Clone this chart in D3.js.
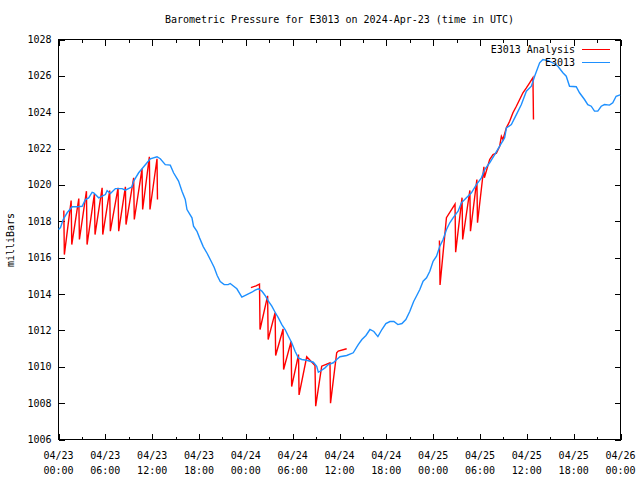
<!DOCTYPE html>
<html>
<head>
<meta charset="utf-8">
<script src="https://cdn.jsdelivr.net/npm/d3@7"></script>
<style>
  html, body { margin: 0; padding: 0; background: #fff; }
  svg { display: block; }
  text { font-family: "DejaVu Sans Mono", "Liberation Mono", monospace; font-size: 10px; fill: #000; }
</style>
</head>
<body>
<svg id="chart" width="640" height="480"></svg>
<script>
// ---- data (hours after 2024-04-23 00:00 UTC, pressure in mb) ----
const stationHours = [0.0,0.26,0.6,1.11,1.75,2.39,3.03,3.45,3.87,4.31,4.51,5.15,5.59,6.01,6.23,6.65,7.29,8.15,8.57,9.42,9.63,10.27,10.70,11.34,11.76,12.62,13.04,13.68,14.32,14.74,15.38,15.82,16.24,16.46,17.10,17.30,17.74,18.07,18.54,19.05,19.57,19.95,20.33,20.72,21.23,21.74,22.0,22.85,23.49,24.13,24.77,25.19,25.61,26.05,26.47,26.89,27.33,27.75,28.17,28.61,29.03,29.45,29.88,30.31,30.73,31.16,31.80,32.65,33.08,33.29,33.72,34.14,34.57,35.20,35.64,36.06,36.92,37.76,38.40,38.87,39.39,39.9,40.4,40.92,41.43,41.94,42.46,42.97,43.48,44.0,44.5,45.0,45.5,45.9,46.29,46.71,47.15,47.57,47.99,48.43,48.85,49.27,49.71,50.13,50.55,51.19,51.62,52.26,52.90,53.54,54.18,54.60,55.24,55.88,56.52,57.16,57.38,58.02,58.66,59.30,59.94,60.58,61.00,61.64,62.06,62.70,63.34,63.98,64.62,65.05,65.47,66.33,66.75,67.39,67.81,68.25,68.67,69.09,69.53,69.95,70.59,71.01,71.44,71.95];
const stationValues = [1017.55,1017.66,1018.1,1018.47,1018.80,1018.80,1018.83,1019.20,1019.29,1019.60,1019.57,1019.29,1019.38,1019.47,1019.69,1019.53,1019.80,1019.80,1019.71,1019.90,1020.21,1020.67,1020.89,1021.22,1021.44,1021.55,1021.44,1021.12,1021.09,1020.67,1020.21,1019.66,1019.20,1018.65,1018.19,1017.73,1017.45,1017.09,1016.61,1016.23,1015.79,1015.46,1015.02,1014.69,1014.52,1014.52,1014.58,1014.29,1013.83,1013.97,1014.10,1014.21,1014.29,1014.16,1013.92,1013.61,1013.33,1013.00,1012.69,1012.32,1012.05,1011.68,1011.32,1010.85,1010.49,1010.40,1010.36,1010.25,1010.03,1009.70,1009.81,1009.94,1010.12,1010.22,1010.40,1010.55,1010.62,1010.77,1011.22,1011.5,1011.72,1012.05,1011.94,1011.66,1012.05,1012.38,1012.49,1012.49,1012.32,1012.38,1012.6,1013.04,1013.59,1013.92,1014.25,1014.71,1014.89,1015.25,1015.80,1016.08,1016.63,1017.00,1017.55,1017.92,1018.19,1018.56,1019.02,1019.29,1019.57,1020.02,1020.39,1020.85,1021.22,1021.67,1022.13,1022.59,1023.14,1023.32,1023.87,1024.42,1025.16,1025.43,1025.98,1026.72,1026.90,1026.84,1026.72,1026.53,1026.17,1025.98,1025.43,1025.40,1025.07,1024.70,1024.42,1024.33,1024.06,1024.06,1024.33,1024.42,1024.39,1024.52,1024.88,1024.95];

// analysis series: null marks a gap between the three runs
const analysisHours = [0.68,0.75,1.62,1.70,2.60,2.68,3.58,3.66,4.60,4.68,5.59,5.67,6.56,6.64,7.63,7.71,8.57,8.65,9.63,9.71,10.70,10.78,11.64,11.72,12.62,12.68,
  13.0,
  24.65,25.3,25.75,25.82,26.79,26.86,27.75,27.82,28.77,28.84,29.80,29.87,30.75,30.82,31.80,32.86,32.95,33.72,34.78,34.85,35.64,35.84,36.92,
  37.5,
  48.8,48.88,49.7,50.8,50.88,51.7,51.78,52.7,52.78,53.6,53.68,54.5,54.56,55.24,55.67,56.1,56.52,56.74,56.94,57.38,57.8,58.22,58.66,59.08,59.5,59.94,60.36,60.78,60.82,60.85];
const analysisValues = [1018.6,1016.17,1019.14,1016.72,1019.25,1017.0,1019.66,1016.72,1019.51,1017.27,1019.84,1017.27,1019.69,1017.46,1019.84,1017.46,1019.90,1017.82,1020.39,1018.10,1020.89,1018.65,1021.55,1018.65,1021.44,1019.2,
  null,
  1014.35,1014.45,1014.55,1012.05,1013.9,1011.5,1012.98,1010.62,1012.08,1009.85,1011.4,1008.91,1010.67,1008.45,1010.55,1010.07,1007.83,1010.03,1010.22,1008.0,1010.77,1010.86,1010.99,
  null,
  1016.95,1014.5,1018.2,1018.95,1016.3,1019.3,1017.0,1019.7,1017.46,1020.3,1017.92,1021.0,1020.4,1021.40,1021.67,1021.75,1022.13,1022.68,1022.5,1023.14,1023.5,1023.97,1024.33,1024.7,1025.07,1025.34,1025.62,1025.9,1024.7,1023.6];

const yTickValues = [1006,1008,1010,1012,1014,1016,1018,1020,1022,1024,1026,1028];
const seriesNames = ["E3013 Analysis", "E3013"];
const seriesColors = ["#ff0000", "#1e90ff"];
const titleText = "Barometric Pressure for E3013 on 2024-Apr-23 (time in UTC)";
const yLabelText = "milliBars";

// ---- setup ----
const start = Date.UTC(2024, 3, 23, 0, 0);
const toDate = h => new Date(start + h * 3600000);
const svg = d3.select("#chart");
const L = 58.5, R = 620.5, T = 39.5, B = 439.5;

const x = d3.scaleUtc().domain([toDate(0), toDate(72)]).range([L, R]);
const y = d3.scaleLinear().domain([1006, 1028]).range([B, T]);

const majorTicks = d3.range(0, 73, 6).map(toDate);
const minorTicks = d3.range(3, 72, 6).map(toDate);

// frame
svg.append("rect").attr("x", L).attr("y", T).attr("width", R - L).attr("height", B - T)
  .attr("fill", "none").attr("stroke", "#000").attr("stroke-width", 1);

const g = svg.append("g").attr("stroke", "#000").attr("stroke-width", 1).attr("shape-rendering", "crispEdges");
// y ticks left + right
yTickValues.forEach(v => {
  const yy = Math.round(y(v)) + 0.5;
  g.append("line").attr("x1", L).attr("x2", L + 6).attr("y1", yy).attr("y2", yy);
  g.append("line").attr("x1", R - 6).attr("x2", R).attr("y1", yy).attr("y2", yy);
});
// x ticks bottom + top
majorTicks.forEach(d => {
  const xx = Math.round(x(d)) + 0.5;
  g.append("line").attr("x1", xx).attr("x2", xx).attr("y1", B).attr("y2", B - 6);
  g.append("line").attr("x1", xx).attr("x2", xx).attr("y1", T).attr("y2", T + 6);
});
minorTicks.forEach(d => {
  const xx = Math.round(x(d)) + 0.5;
  g.append("line").attr("x1", xx).attr("x2", xx).attr("y1", B).attr("y2", B - 3);
  g.append("line").attr("x1", xx).attr("x2", xx).attr("y1", T).attr("y2", T + 3);
});

// y tick labels
svg.append("g").selectAll("text").data(yTickValues).join("text")
  .attr("x", L - 7).attr("y", d => y(d)).attr("dy", "0.35em")
  .attr("text-anchor", "end").text(d => d);

// x tick labels
const fmtDay = d3.utcFormat("%m/%d"), fmtTime = d3.utcFormat("%H:%M");
const xl = svg.append("g").selectAll("g").data(majorTicks).join("g");
xl.append("text").attr("x", d => x(d)).attr("y", 459).attr("text-anchor", "middle").text(d => fmtDay(d));
xl.append("text").attr("x", d => x(d)).attr("y", 474).attr("text-anchor", "middle").text(d => fmtTime(d));

// title & y label
svg.append("text").attr("x", (L + R) / 2).attr("y", 23).attr("text-anchor", "middle").text(titleText);
svg.append("text").attr("transform", "translate(14,240) rotate(-90)").attr("text-anchor", "middle").text(yLabelText);

// lines
const analysisData = analysisHours.map((h, i) => ({ t: toDate(h), v: analysisValues[i] }));
const stationData = stationHours.map((h, i) => ({ t: toDate(h), v: stationValues[i] }));
const line = d3.line().defined(d => d.v != null).x(d => x(d.t)).y(d => y(d.v));

svg.append("path").datum(analysisData).attr("d", line)
  .attr("fill", "none").attr("stroke", seriesColors[0]).attr("stroke-width", 1.4);
svg.append("path").datum(stationData).attr("d", line)
  .attr("fill", "none").attr("stroke", seriesColors[1]).attr("stroke-width", 1.4);

// legend
seriesNames.forEach((name, i) => {
  const ly = 49 + i * 13;
  svg.append("text").attr("x", 575).attr("y", ly).attr("dy", "0.35em").attr("text-anchor", "end").text(name);
  svg.append("line").attr("x1", 582).attr("x2", 610).attr("y1", ly + 0.5).attr("y2", ly + 0.5)
    .attr("stroke", seriesColors[i]).attr("stroke-width", 1).attr("shape-rendering", "crispEdges");
});
</script>
</body>
</html>
